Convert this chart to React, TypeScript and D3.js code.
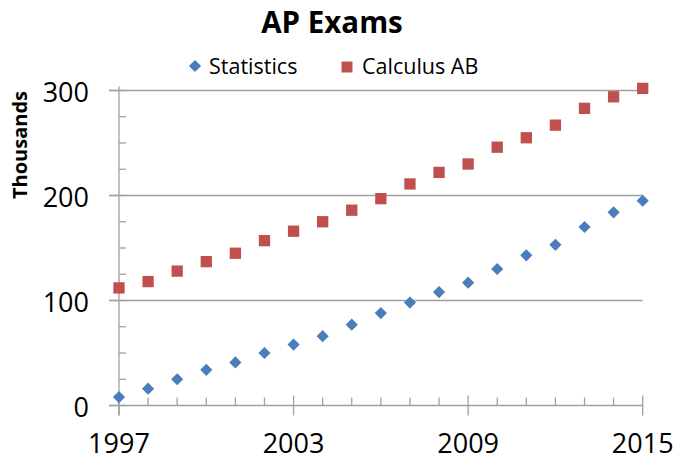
import * as d3 from "d3";
import React, {useEffect, useRef} from "react";

const years = d3.range(1997, 2016);
const statistics = [8, 16, 25, 34, 41, 50, 58, 66, 77, 88, 98, 108, 117, 130, 143, 153, 170, 184, 195];
const calculusAB = [112, 118, 128, 137, 145, 157, 166, 175, 186, 197, 211, 222, 230, 246, 255, 267, 283, 294, 302];
const yTicks = [0, 100, 200, 300];
const xTickLabels = [1997, 2003, 2009, 2015];

const width = 674;
const height = 460;
const font = "'Open Sans', sans-serif";
const blue = '#4a7ebb';
const red = '#c0504d';
const gray = '#a0a0a0';

const Chart: React.FC = () => {
  const ref = useRef<SVGSVGElement | null>(null);

  useEffect(() => {
    const svg = d3.select(ref.current);
    svg.selectAll('*').remove();

    const xScale = d3.scaleLinear().domain([1997, 2015]).range([119, 642.7]);
    const yScale = d3.scaleLinear().domain([0, 300]).range([405.5, 90.5]);
    const x0 = xScale(1997);
    const y0 = yScale(0);

    // title
    svg.append('text')
      .attr('x', 332)
      .attr('y', 33)
      .attr('text-anchor', 'middle')
      .style('font-family', font)
      .style('font-weight', 'bold')
      .style('font-size', '29.5px')
      .text('AP Exams');

    // gridlines
    svg.append('g')
      .selectAll('line')
      .data(yTicks.filter(d => d > 0))
      .enter()
      .append('line')
      .attr('x1', x0 - 10)
      .attr('x2', xScale(2015))
      .attr('y1', d => yScale(d))
      .attr('y2', d => yScale(d))
      .attr('stroke', gray)
      .attr('stroke-width', 1.3);

    // axis lines + ticks
    const axis = svg.append('g').attr('stroke', gray).attr('stroke-width', 1.3);
    axis.append('line').attr('x1', x0).attr('x2', x0).attr('y1', yScale(300) - 4).attr('y2', y0 + 10);
    axis.append('line').attr('x1', x0 - 10).attr('x2', xScale(2015)).attr('y1', y0).attr('y2', y0);
    axis.selectAll('.ymin')
      .data(d3.range(0, 301, 25))
      .enter()
      .append('line')
      .attr('x1', d => (d % 100 === 0 ? x0 - 10 : x0))
      .attr('x2', x0 + 7)
      .attr('y1', d => yScale(d))
      .attr('y2', d => yScale(d));
    axis.selectAll('.xmin')
      .data(years)
      .enter()
      .append('line')
      .attr('x1', d => xScale(d))
      .attr('x2', d => xScale(d))
      .attr('y1', d => (xTickLabels.includes(d) ? y0 - 10 : y0 - 8))
      .attr('y2', d => (xTickLabels.includes(d) ? y0 + 10 : y0));

    // tick labels
    svg.append('g')
      .selectAll('text')
      .data(yTicks)
      .enter()
      .append('text')
      .attr('x', 89)
      .attr('y', d => yScale(d) + 11)
      .attr('text-anchor', 'end')
      .style('font-family', font)
      .style('font-size', '27px')
      .text(d => d);

    svg.append('g')
      .selectAll('text')
      .data(xTickLabels)
      .enter()
      .append('text')
      .attr('x', d => xScale(d))
      .attr('y', 452.5)
      .attr('text-anchor', 'middle')
      .style('font-family', font)
      .style('font-size', '27px')
      .text(d => d);

    // y axis title
    svg.append('text')
      .attr('transform', 'translate(27, 145) rotate(-90)')
      .attr('text-anchor', 'middle')
      .style('font-family', font)
      .style('font-weight', 'bold')
      .style('font-size', '20px')
      .text('Thousands');

    const diamond = d3.symbol().type(d3.symbolSquare).size(74);
    const square = d3.symbol().type(d3.symbolSquare).size(128);

    // series
    svg.append('g')
      .selectAll('path')
      .data(years)
      .enter()
      .append('path')
      .attr('d', diamond)
      .attr('transform', (d, i) => `translate(${xScale(d)}, ${yScale(statistics[i])}) rotate(45)`)
      .attr('fill', blue);

    svg.append('g')
      .selectAll('path')
      .data(years)
      .enter()
      .append('path')
      .attr('d', square)
      .attr('transform', (d, i) => `translate(${xScale(d)}, ${yScale(calculusAB[i])})`)
      .attr('fill', red);

    // legend
    const legend = svg.append('g').style('font-family', font).style('font-size', '21.5px');
    legend.append('path').attr('d', diamond).attr('transform', 'translate(195, 66) rotate(45)').attr('fill', blue);
    legend.append('text').attr('x', 209).attr('y', 74).text('Statistics');
    legend.append('path').attr('d', d3.symbol().type(d3.symbolSquare).size(121)).attr('transform', 'translate(347, 67)').attr('fill', red);
    legend.append('text').attr('x', 362).attr('y', 74).text('Calculus AB');

    return () => {
      svg.selectAll('*').remove();
    };
  }, []);

  return <svg ref={ref} width={width} height={height} style={{position: 'absolute', left: 0, top: 0, background: '#fff'}} />;
};

export default function App() {
  return <Chart />;
}
